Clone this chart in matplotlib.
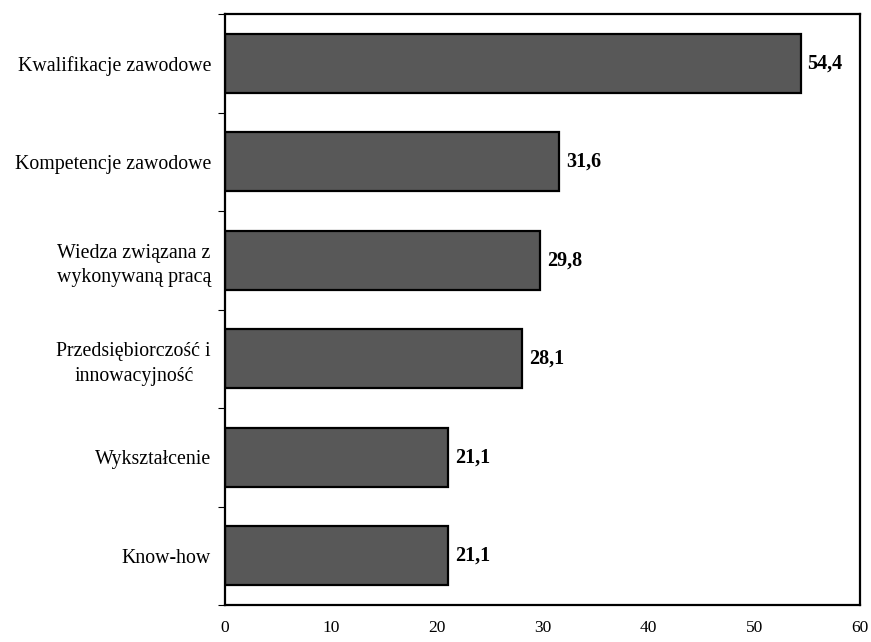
import matplotlib
matplotlib.use("Agg")
import matplotlib.pyplot as plt
import numpy as np

categories = [
    "Kwalifikacje zawodowe",
    "Kompetencje zawodowe",
    "Wiedza związana z\nwykonywaną pracą",
    "Przedsiębiorczość i\ninnowacyjność",
    "Wykształcenie",
    "Know-how",
]
values = [54.4, 31.6, 29.8, 28.1, 21.1, 21.1]
value_labels = ["54,4", "31,6", "29,8", "28,1", "21,1", "21,1"]
x_ticks = [0, 10, 20, 30, 40, 50, 60]

plt.rcParams["font.family"] = ["Liberation Serif", "DejaVu Serif"]

fig = plt.figure(figsize=(8.71, 6.42), dpi=100)
ax = fig.add_axes([225 / 871, 37 / 642, 635 / 871, 591 / 642])

n = len(categories)
pos = np.arange(n)
ax.barh(pos, values, height=0.6, color="#585858", edgecolor="black", linewidth=1.6)

for p, v, lab in zip(pos, values, value_labels):
    ax.text(v + 0.6, p, lab, va="center", ha="left", fontsize=14.5, fontweight="bold")

ax.set_xlim(0, 60)
ax.set_ylim(n - 0.5, -0.5)
ax.set_xticks(x_ticks)
ax.set_xticklabels([str(t) for t in x_ticks], fontsize=12.5)
ax.tick_params(axis="x", length=0, pad=11)

ax.set_yticks(pos)
ax.set_yticklabels(categories, fontsize=14.3, multialignment="center", linespacing=1.4)
ax.tick_params(axis="y", which="major", length=0, pad=10)
ax.set_yticks(np.arange(-0.5, n, 1.0), minor=True)
ax.tick_params(axis="y", which="minor", length=5, width=0.8, direction="out")

for s in ax.spines.values():
    s.set_linewidth(1.6)
    s.set_color("black")

fig.savefig("out.png", dpi=100)
